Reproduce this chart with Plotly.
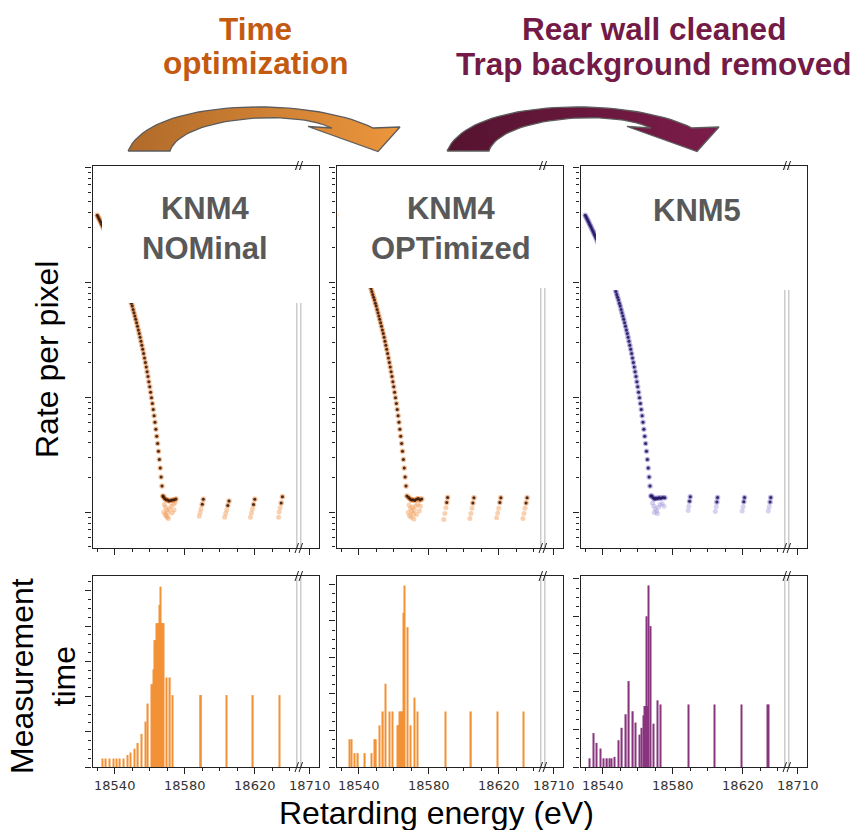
import plotly.graph_objects as go

W, H = 856, 830

# ---------------- data ----------------
# integral spectrum scan (retarding energy in eV, rate per pixel in cps)
scan_energy = [18530.0, 18530.5, 18531.0, 18531.5, 18532.0, 18532.5, 18533.0, 18533.5, 18534.0, 18534.5,
               18535.0, 18535.5, 18536.0, 18536.5, 18537.0, 18537.5, 18538.0, 18538.5, 18539.0, 18539.5,
               18540.0, 18540.5, 18541.0, 18541.5, 18542.0, 18542.5, 18543.0, 18543.5, 18544.0, 18544.5,
               18545.0, 18545.5, 18546.0, 18546.5, 18547.0, 18547.5, 18548.0, 18548.5, 18549.0, 18549.5,
               18550.0, 18550.5, 18551.0, 18551.5, 18552.0, 18552.5, 18553.0, 18553.5, 18554.0, 18554.5,
               18555.0, 18555.5, 18556.0, 18556.5, 18557.0, 18557.5, 18558.0, 18558.5, 18559.0, 18559.5,
               18560.0, 18560.5, 18561.0, 18561.5, 18562.0, 18562.5, 18563.0, 18563.5, 18564.0, 18564.5,
               18565.0, 18565.5, 18566.0, 18566.5, 18567.0, 18567.5]
scan_rate = [3.81, 3.68, 3.55, 3.43, 3.31, 3.19, 3.08, 2.97, 2.86, 2.75,
             2.65, 2.55, 2.45, 2.36, 2.26, 2.17, 2.08, 2.00, 1.91, 1.83,
             1.76, 1.68, 1.60, 1.53, 1.46, 1.40, 1.33, 1.27, 1.21, 1.15,
             1.09, 1.03, 0.98, 0.93, 0.88, 0.83, 0.78, 0.74, 0.70, 0.656,
             0.62, 0.579, 0.54, 0.508, 0.475, 0.443, 0.413, 0.384, 0.357, 0.331,
             0.306, 0.282, 0.260, 0.239, 0.219, 0.200, 0.183, 0.166, 0.151, 0.136,
             0.123, 0.110, 0.0986, 0.0878, 0.0778, 0.0687, 0.0603, 0.0526, 0.0457, 0.0394,
             0.0337, 0.0287, 0.0242, 0.0202, 0.0168, 0.0138]

# background-region points (high statistics = dark, low statistics = light)
bg_dark_E_nom = [18567.8, 18568.5, 18569.3, 18570.2, 18571.0, 18572.0, 18573.0, 18574.0, 18575.0,
                 18590.6, 18590.0, 18605.3, 18604.6, 18620.0, 18619.3, 18635.8, 18635.1]
bg_dark_R_nom = [0.0136, 0.0131, 0.0128, 0.0127, 0.0125, 0.0126, 0.0127, 0.0128, 0.0130,
                 0.0129, 0.0117, 0.0125, 0.0114, 0.0129, 0.0116, 0.0136, 0.0120]
bg_light_E_nom = [18568.3, 18569.0, 18569.8, 18570.5, 18571.3, 18568.8, 18570.0, 18572.2, 18573.5, 18574.5,
                  18568.0, 18569.4, 18570.6, 18572.8, 18573.9,
                  18589.3, 18588.8, 18588.3, 18604.0, 18603.4, 18602.8, 18618.7, 18618.1, 18617.5,
                  18634.5, 18634.0, 18633.6]
bg_light_R_nom = [0.0116, 0.0110, 0.0104, 0.0099, 0.0106, 0.0095, 0.0090, 0.0112, 0.0117, 0.0121,
                  0.0100, 0.0093, 0.0088, 0.0098, 0.0104,
                  0.0107, 0.0099, 0.0092, 0.0104, 0.0097, 0.0090, 0.0106, 0.0098, 0.0090,
                  0.0109, 0.0100, 0.0090]

bg_dark_E_opt = [18568.5, 18569.3, 18570.2, 18571.0, 18572.0, 18573.0, 18574.0, 18575.0, 18576.0,
                 18590.8, 18590.3, 18605.8, 18605.2, 18621.2, 18620.6, 18636.2, 18635.6]
bg_dark_R_opt = [0.0134, 0.0130, 0.0127, 0.0128, 0.0126, 0.0129, 0.0131, 0.0127, 0.0130,
                 0.0134, 0.0121, 0.0133, 0.0120, 0.0133, 0.0121, 0.0133, 0.0120]
bg_light_E_opt = [18568.8, 18569.5, 18570.3, 18571.2, 18569.0, 18570.8, 18572.5, 18573.8, 18575.2, 18571.8,
                  18568.3, 18569.9, 18571.5, 18573.0, 18574.6,
                  18589.8, 18589.2, 18588.6, 18604.7, 18604.1, 18603.5, 18620.0, 18619.4, 18618.8,
                  18635.0, 18634.4, 18633.8]
bg_light_R_opt = [0.0115, 0.0108, 0.0101, 0.0096, 0.0093, 0.0110, 0.0113, 0.0117, 0.0112, 0.0104,
                  0.0099, 0.0090, 0.0087, 0.0095, 0.0102,
                  0.0109, 0.0097, 0.0086, 0.0108, 0.0097, 0.0088, 0.0108, 0.0098, 0.0089,
                  0.0108, 0.0097, 0.0088]

bg_dark_E_k5 = [18568.0, 18568.8, 18569.6, 18570.4, 18571.3, 18572.2, 18573.2, 18574.3, 18575.5,
                18590.0, 18589.6, 18605.6, 18605.2, 18621.0, 18620.6, 18636.0, 18635.6]
bg_dark_R_k5 = [0.0138, 0.0133, 0.0130, 0.0132, 0.0131, 0.0133, 0.0132, 0.0134, 0.0133,
                0.0136, 0.0124, 0.0134, 0.0122, 0.0134, 0.0123, 0.0134, 0.0122]
bg_light_E_k5 = [18568.4, 18569.2, 18570.0, 18570.8, 18571.8, 18572.8, 18574.0, 18575.0, 18569.5, 18571.2,
                 18589.2, 18588.8, 18604.8, 18604.3, 18620.2, 18619.7, 18635.1, 18634.6]
bg_light_R_k5 = [0.0120, 0.0113, 0.0107, 0.0102, 0.0110, 0.0116, 0.0118, 0.0112, 0.0099, 0.0097,
                 0.0112, 0.0103, 0.0111, 0.0101, 0.0111, 0.0102, 0.0111, 0.0102]

# measurement time distributions (arbitrary units)
mt_E_nom = [18533.0, 18535.0, 18537.0, 18539.3, 18541.0, 18543.0, 18545.0, 18547.3, 18549.0, 18551.4,
            18553.3, 18555.2, 18557.5, 18559.0, 18561.0, 18561.5, 18562.0, 18562.5, 18563.0, 18563.5,
            18564.0, 18564.5, 18565.0, 18565.4, 18565.8, 18566.2, 18566.6, 18567.0, 18567.5, 18568.0,
            18569.5, 18571.6, 18573.1, 18588.8, 18589.3, 18604.0, 18619.0, 18634.0]
mt_T_nom = [0.24, 0.24, 0.24, 0.24, 0.24, 0.24, 0.24, 0.34, 0.41, 0.52,
            0.68, 0.94, 1.29, 1.80, 2.35, 2.35, 2.77, 2.77, 3.60, 3.60,
            4.08, 4.08, 4.08, 4.60, 4.08, 5.12, 4.08, 4.08, 4.08, 4.08,
            2.54, 2.54, 2.04, 2.04, 2.04, 2.04, 2.04, 2.04]

mt_E_opt = [18534.9, 18535.8, 18537.5, 18539.6, 18543.6, 18547.4, 18549.1, 18549.9, 18551.8, 18553.9,
            18555.4, 18557.7, 18559.4, 18562.0, 18562.5, 18563.0, 18563.5, 18564.0, 18564.5, 18565.0,
            18565.7, 18566.3, 18568.0, 18569.5, 18571.8, 18573.7, 18589.5, 18604.2, 18619.2, 18634.1]
mt_T_opt = [0.76, 0.76, 0.38, 0.38, 0.38, 0.38, 0.76, 0.76, 1.14, 1.52,
            2.28, 1.52, 1.52, 1.14, 1.14, 1.14, 1.52, 1.52, 1.52, 1.52,
            4.22, 4.97, 3.83, 1.14, 1.90, 1.52, 1.52, 1.52, 1.52, 1.52]

mt_E_k5 = [18532.5, 18534.8, 18536.3, 18538.7, 18540.4, 18542.5, 18543.8, 18545.0, 18546.9, 18549.2,
           18551.0, 18553.3, 18555.0, 18557.3, 18558.8, 18561.2, 18562.1, 18563.3, 18564.0, 18564.5,
           18565.0, 18565.5, 18566.0, 18567.5, 18569.0, 18571.3, 18573.0, 18589.0, 18604.0, 18619.2,
           18634.2, 18634.8]
mt_T_k5 = [0.23, 0.90, 0.64, 0.49, 0.23, 0.23, 0.23, 0.23, 0.27, 0.71,
           1.04, 1.40, 2.28, 1.48, 1.18, 0.86, 1.04, 1.37, 1.62, 1.62,
           4.00, 1.62, 4.82, 3.74, 1.15, 1.77, 1.66, 1.66, 1.66, 1.66,
           1.66, 1.66]

x_tick_vals = [18540, 18580, 18620, 18651.4]
x_tick_text = ["18540", "18580", "18620", "18710"]
x_minor_vals = [18530, 18550, 18560, 18570, 18590, 18600, 18610, 18630, 18640]
x_range = [18527.3, 18656.7]
break_energies = [18644.0, 18646.3]

panel_labels = ["<b>KNM4</b><br><b>NOMinal</b>", "<b>KNM4</b><br><b>OPTimized</b>", "<b>KNM5</b>"]

# ---------------- layout geometry (pixels) ----------------
cols = [(92.5, 319.0), (336.5, 563.0), (580.5, 807.0)]
top_row = (166.0, 548.0)
bot_row = (576.0, 767.0)


def fx(x):
    return x / W


def fy(y):
    return 1 - y / H


fig = go.Figure()

top_sets = [
    (bg_dark_E_nom, bg_dark_R_nom, bg_light_E_nom, bg_light_R_nom, "#3a1a0b", "#e3701c", "#f29a52"),
    (bg_dark_E_opt, bg_dark_R_opt, bg_light_E_opt, bg_light_R_opt, "#3a1a0b", "#e3701c", "#f29a52"),
    (bg_dark_E_k5, bg_dark_R_k5, bg_light_E_k5, bg_light_R_k5, "#22185a", "#6c5cc2", "#a99cdc"),
]
bot_sets = [
    (mt_E_nom, mt_T_nom, "#f07f12", 5.42),
    (mt_E_opt, mt_T_opt, "#f07f12", 5.23),
    (mt_E_k5, mt_T_k5, "#741268", 5.07),
]


def ax_names(k):
    return ("x" if k == 1 else f"x{k}"), ("y" if k == 1 else f"y{k}")


for i, (dE, dR, lE, lR, dark, halo, light) in enumerate(top_sets):
    xa, ya = ax_names(i + 1)
    fig.add_trace(go.Scatter(x=lE, y=lR, mode="markers", xaxis=xa, yaxis=ya, hoverinfo="skip",
                             marker=dict(size=5, color=light, opacity=0.45, line=dict(width=0))))
    fig.add_trace(go.Scatter(x=scan_energy + dE, y=scan_rate + dR, mode="markers", xaxis=xa, yaxis=ya,
                             hoverinfo="skip",
                             marker=dict(size=5.5, color=halo, opacity=0.45, line=dict(width=0))))
    fig.add_trace(go.Scatter(x=scan_energy + dE, y=scan_rate + dR, mode="markers", xaxis=xa, yaxis=ya,
                             marker=dict(size=3, color=dark, opacity=0.9, line=dict(width=0))))

for i, (E, T, c, top) in enumerate(bot_sets):
    xa, ya = ax_names(i + 4)
    fig.add_trace(go.Bar(x=E, y=T, width=0.7, xaxis=xa, yaxis=ya, opacity=0.85,
                         marker=dict(color=c, line=dict(width=0))))


# ---------------- curved arrows (decoration) ----------------
def bez(p0, p1, p2, p3, n=40):
    pts = []
    for j in range(n + 1):
        t = j / n
        a, b, c, d = (1 - t) ** 3, 3 * t * (1 - t) ** 2, 3 * t * t * (1 - t), t ** 3
        pts.append((a * p0[0] + b * p1[0] + c * p2[0] + d * p3[0],
                    a * p0[1] + b * p1[1] + c * p2[1] + d * p3[1]))
    return pts


def arrow(dx, c0, c1):
    outer = bez((128 + dx, 151), (150 + dx, 98), (310 + dx, 96), (373 + dx, 128))
    inner = bez((170 + dx, 151), (180 + dx, 118), (290 + dx, 108), (332 + dx, 128))
    head = [(400 + dx, 127), (378 + dx, 151.5), (308 + dx, 126.5)]
    poly = outer + head + inner[::-1] + [outer[0]]
    fig.add_trace(go.Scatter(x=[p[0] for p in poly], y=[p[1] for p in poly], mode="lines",
                             fill="toself", xaxis="x7", yaxis="y7", hoverinfo="skip",
                             fillgradient=dict(type="horizontal", colorscale=[[0, c0], [1, c1]]),
                             line=dict(color="#5c5c5c", width=1.3)))


arrow(0, "#b06a2a", "#ec963c")
arrow(319, "#55132f", "#7c1c4a")

# ---------------- axes ----------------
layout = dict(
    width=W, height=H, autosize=False,
    margin=dict(l=0, r=0, t=0, b=0, pad=0),
    paper_bgcolor="white", plot_bgcolor="rgba(0,0,0,0)",
    showlegend=False, barmode="overlay",
    font=dict(family="Liberation Sans, Arial, sans-serif", color="#000"),
)

line_col = "#222222"
for k in range(1, 7):
    col = cols[(k - 1) % 3]
    row = top_row if k <= 3 else bot_row
    xkey = "xaxis" if k == 1 else f"xaxis{k}"
    ykey = "yaxis" if k == 1 else f"yaxis{k}"
    xa, ya = ax_names(k)
    layout[xkey] = dict(
        domain=[fx(col[0]), fx(col[1])], anchor=ya, range=x_range,
        tickmode="array", tickvals=x_tick_vals, ticktext=x_tick_text,
        ticks="outside", ticklen=6, tickwidth=1, tickcolor=line_col,
        minor=dict(tickmode="array", tickvals=x_minor_vals, ticks="outside", ticklen=3,
                   tickwidth=1, tickcolor=line_col, showgrid=False),
        showline=True, linecolor=line_col, linewidth=1.3, mirror=True,
        showgrid=False, zeroline=False, showticklabels=(k > 3), automargin=False,
        tickfont=dict(family="DejaVu Sans", size=13, color="#333333"),
    )
    if k <= 3:
        minor_y = [m * 10 ** e for e in range(-3, 2) for m in range(2, 10)]
        layout[ykey] = dict(
            domain=[fy(row[1]), fy(row[0])], anchor=xa, type="log", range=[-2.313, 1.01],
            tickmode="array", tickvals=[0.01, 0.1, 1, 10],
            ticks="outside", ticklen=6, tickwidth=1, tickcolor=line_col,
            minor=dict(tickmode="array", tickvals=minor_y, ticks="outside", ticklen=3,
                       tickwidth=1, tickcolor=line_col, showgrid=False),
            showline=True, linecolor=line_col, linewidth=1.3, mirror=True,
            showgrid=False, zeroline=False, showticklabels=False, automargin=False,
        )
    else:
        layout[ykey] = dict(
            domain=[fy(row[1]), fy(row[0])], anchor=xa, range=[0, bot_sets[k - 4][3]],
            dtick=1, ticks="outside", ticklen=6, tickwidth=1, tickcolor=line_col,
            minor=dict(dtick=0.25, ticks="outside", ticklen=3, tickwidth=1,
                       tickcolor=line_col, showgrid=False),
            showline=True, linecolor=line_col, linewidth=1.3, mirror=True,
            showgrid=False, zeroline=False, showticklabels=False, automargin=False,
        )

layout["xaxis7"] = dict(domain=[0, 1], range=[0, W], visible=False, anchor="y7", fixedrange=True)
layout["yaxis7"] = dict(domain=[0, 1], range=[H, 0], visible=False, anchor="x7", fixedrange=True)

fig.update_layout(**layout)

# ---------------- shapes: axis breaks and label boxes ----------------
shapes = []
for k in range(1, 7):
    xa, ya = ax_names(k)
    ph = (top_row[1] - top_row[0]) if k <= 3 else (bot_row[1] - bot_row[0])
    dy = 5.0 / ph
    for e in break_energies:
        shapes.append(dict(type="line", xref=xa, yref=f"{ya} domain", x0=e, x1=e, y0=0, y1=1,
                           line=dict(color="#c9c9c9", width=1.4), layer="above"))
        for yb in (0, 1):
            shapes.append(dict(type="line", xref=xa, yref=f"{ya} domain", x0=e - 1.0, x1=e + 1.0,
                               y0=yb - dy, y1=yb + dy, line=dict(color=line_col, width=1),
                               layer="above"))

boxes = [(102, 308, 170, 303), (339, 556, 170, 288), (596, 798, 170, 290)]
for (x0, x1, y0, y1) in boxes:
    shapes.append(dict(type="rect", xref="paper", yref="paper", x0=fx(x0), x1=fx(x1),
                       y0=fy(y1), y1=fy(y0), fillcolor="white", line=dict(width=0), layer="above"))
fig.update_layout(shapes=shapes)

# ---------------- text ----------------
ann = []
label_pos = [(205, 229), (451, 228), (697, 210)]
for txt, (x, y) in zip(panel_labels, label_pos):
    ann.append(dict(text=txt, x=fx(x), y=fy(y), xref="paper", yref="paper", showarrow=False,
                    xanchor="center", yanchor="middle",
                    font=dict(family="Liberation Sans, Arial", size=31, color="#595959")))

head_col1 = "#c35a10"
head_col2 = "#741a46"
for txt, x, y, c in [("<b>Time</b>", 255, 29, head_col1),
                     ("<b>optimization</b>", 255, 63, head_col1),
                     ("<b>Rear wall cleaned</b>", 653.5, 29, head_col2),
                     ("<b>Trap background removed</b>", 653.5, 64, head_col2)]:
    ann.append(dict(text=txt, x=fx(x), y=fy(y), xref="paper", yref="paper", showarrow=False,
                    xanchor="center", yanchor="middle",
                    font=dict(family="Liberation Sans, Arial", size=31.5, color=c)))

ann.append(dict(text="Rate per pixel", x=fx(47), y=fy(360), xref="paper", yref="paper",
                showarrow=False, textangle=-90, xanchor="center", yanchor="middle",
                font=dict(family="Liberation Sans, Arial", size=32, color="#000")))
ann.append(dict(text="Measurement<br>time", x=fx(43), y=fy(676), xref="paper", yref="paper",
                showarrow=False, textangle=-90, xanchor="center", yanchor="middle",
                font=dict(family="Liberation Sans, Arial", size=32, color="#000")))
ann.append(dict(text="Retarding energy (eV)", x=fx(437), y=fy(812.5), xref="paper", yref="paper",
                showarrow=False, xanchor="center", yanchor="middle", borderpad=0,
                font=dict(family="Liberation Sans, Arial", size=32, color="#000")))
fig.update_layout(annotations=ann)

fig.write_html("out.html", config={"responsive": False},
               post_script="document.body.style.margin='0';document.body.style.overflow='hidden';")
